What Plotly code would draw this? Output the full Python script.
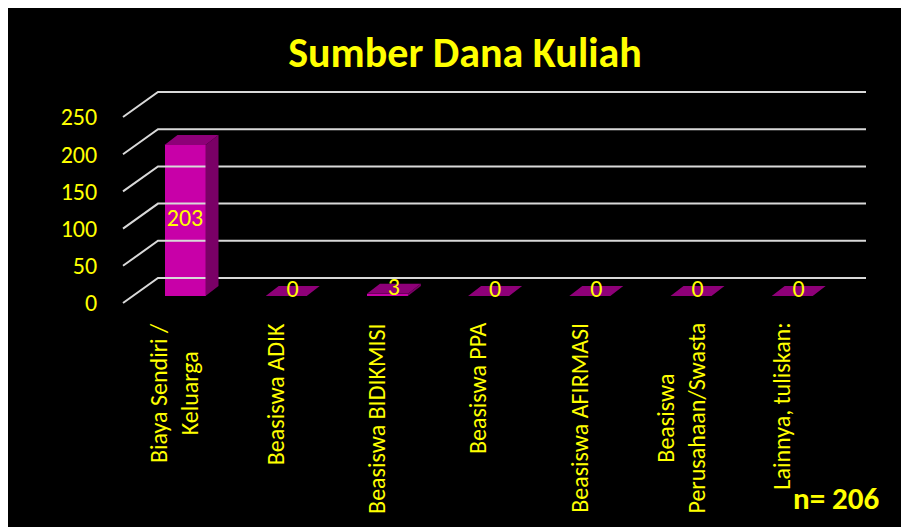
import plotly.graph_objects as go

categories = ["Biaya Sendiri /<br>Keluarga", "Beasiswa ADIK", "Beasiswa BIDIKMISI",
              "Beasiswa PPA", "Beasiswa AFIRMASI", "Beasiswa<br>Perusahaan/Swasta",
              "Lainnya, tuliskan:"]
values = [203, 0, 3, 0, 0, 0, 0]
tick_values = [0, 50, 100, 150, 200, 250]
title_text = "Sumber Dana Kuliah"
note_text = "n= 206"

FONT = "Carlito, Open Sans, sans-serif"
YEL = "#FFFF00"

# page body offset (screen px -> figure px)
OFF = 8
W, H = 909, 527
# screen-pixel layout
PL, PR, PT, PB = 120, 880, 80, 320
X0PX, STEP = 185, 101.2          # screen px of first category, px per category
BASEPX, PXU = 296, 0.744          # screen px of bar base, px per unit
xr = [(PL - X0PX) / STEP, (PR - X0PX) / STEP]
yr = [-(PB - BASEPX) / PXU, (BASEPX - PT) / PXU]
FRONTPX = 303
yr2 = [-(PB - FRONTPX) / PXU, (FRONTPX - PT) / PXU]

bw = 41 / STEP
dx = 13 / STEP
dy = 10 / PXU
g_front_x = (123 - X0PX) / STEP
g_back_x = (158 - X0PX) / STEP
g_end_x = (866 - X0PX) / STEP
g_front_dy = -(FRONTPX - BASEPX) / PXU
g_back_dy = (BASEPX - 278) / PXU

fig = go.Figure()

# grid (3D walls)
gx, gy = [], []
for v in tick_values:
    gx += [g_front_x, g_back_x, g_end_x, None]
    gy += [v + g_front_dy, v + g_back_dy, v + g_back_dy, None]
fig.add_trace(go.Scatter(x=gx, y=gy, mode="lines", line=dict(color="#D9D9D9", width=2),
                         hoverinfo="skip", showlegend=False))

# front faces
xs = list(range(len(categories)))
fig.add_trace(go.Bar(x=xs, y=values, width=bw, marker=dict(color="#C800A8", line=dict(width=0)),
                     showlegend=False, hoverinfo="skip"))

# side faces
sx, sy = [], []
for i, v in zip(xs, values):
    if v > 0:
        r = i + bw / 2
        sx += [r, r, r + dx, r + dx, r, None]
        sy += [0, v, v + dy, dy, 0, None]
fig.add_trace(go.Scatter(x=sx, y=sy, mode="lines", fill="toself", fillcolor="#7A0066",
                         line=dict(width=0, color="#7A0066"), hoverinfo="skip", showlegend=False))

# top faces
tx, ty = [], []
for i, v in zip(xs, values):
    l, r = i - bw / 2, i + bw / 2
    tx += [l, r, r + dx, l + dx, l, None]
    ty += [v, v, v + dy, v + dy, v, None]
fig.add_trace(go.Scatter(x=tx, y=ty, mode="lines", fill="toself", fillcolor="#8E0078",
                         line=dict(width=0, color="#8E0078"), hoverinfo="skip", showlegend=False))

# data labels
lx = [i if v >= 10 else i + dx / 2 for i, v in zip(xs, values)]
ly = [v / 2 if v >= 10 else v + dy / 2 for v in values]
fig.add_trace(go.Scatter(x=lx, y=ly, mode="text", text=[str(v) for v in values],
                         textfont=dict(family=FONT, size=24, color=YEL), textposition="middle center",
                         hoverinfo="skip", showlegend=False))

# dummy trace for front tick axis
fig.add_trace(go.Scatter(x=[xr[0]] * len(tick_values), y=tick_values, yaxis="y2", mode="markers",
                         marker=dict(opacity=0), hoverinfo="skip", showlegend=False))

annotations = []
for i, c in enumerate(categories):
    annotations.append(dict(x=i, y=0, xref="x", yref="paper", text=c, textangle=-90,
                            xanchor="center", yanchor="top", yshift=-1, xshift=-11, showarrow=False,
                            align="center", font=dict(family=FONT, size=24, color=YEL)))
annotations.append(dict(x=(836 - PL) / (PR - PL), y=(PB - 498) / (PB - PT), xref="paper", yref="paper",
                        text="<b>" + note_text + "</b>", showarrow=False, xanchor="center", yanchor="middle",
                        font=dict(family=FONT, size=31, color=YEL)))

fig.update_layout(
    width=W, height=H,
    margin=dict(l=PL - OFF, r=W - (PR - OFF), t=PT - OFF, b=H - (PB - OFF), pad=0),
    paper_bgcolor="black", plot_bgcolor="black",
    title=dict(text="<b>" + title_text + "</b>", x=(465 - OFF) / W, xanchor="center",
               y=1 - (52 - OFF) / H, yanchor="middle", font=dict(family=FONT, size=42, color=YEL)),
    xaxis=dict(range=xr, showgrid=False, zeroline=False, showticklabels=False, showline=False,
               fixedrange=True),
    yaxis=dict(range=yr, showgrid=False, zeroline=False, showticklabels=False, showline=False),
    yaxis2=dict(range=yr2, overlaying="y", side="left", showgrid=False, zeroline=False,
                tickvals=tick_values, ticks="outside", ticklen=17, tickcolor="rgba(0,0,0,0)",
                tickfont=dict(family=FONT, size=24, color=YEL), showline=False),
    annotations=annotations,
    bargap=0,
)

fig.write_html("out.html")
